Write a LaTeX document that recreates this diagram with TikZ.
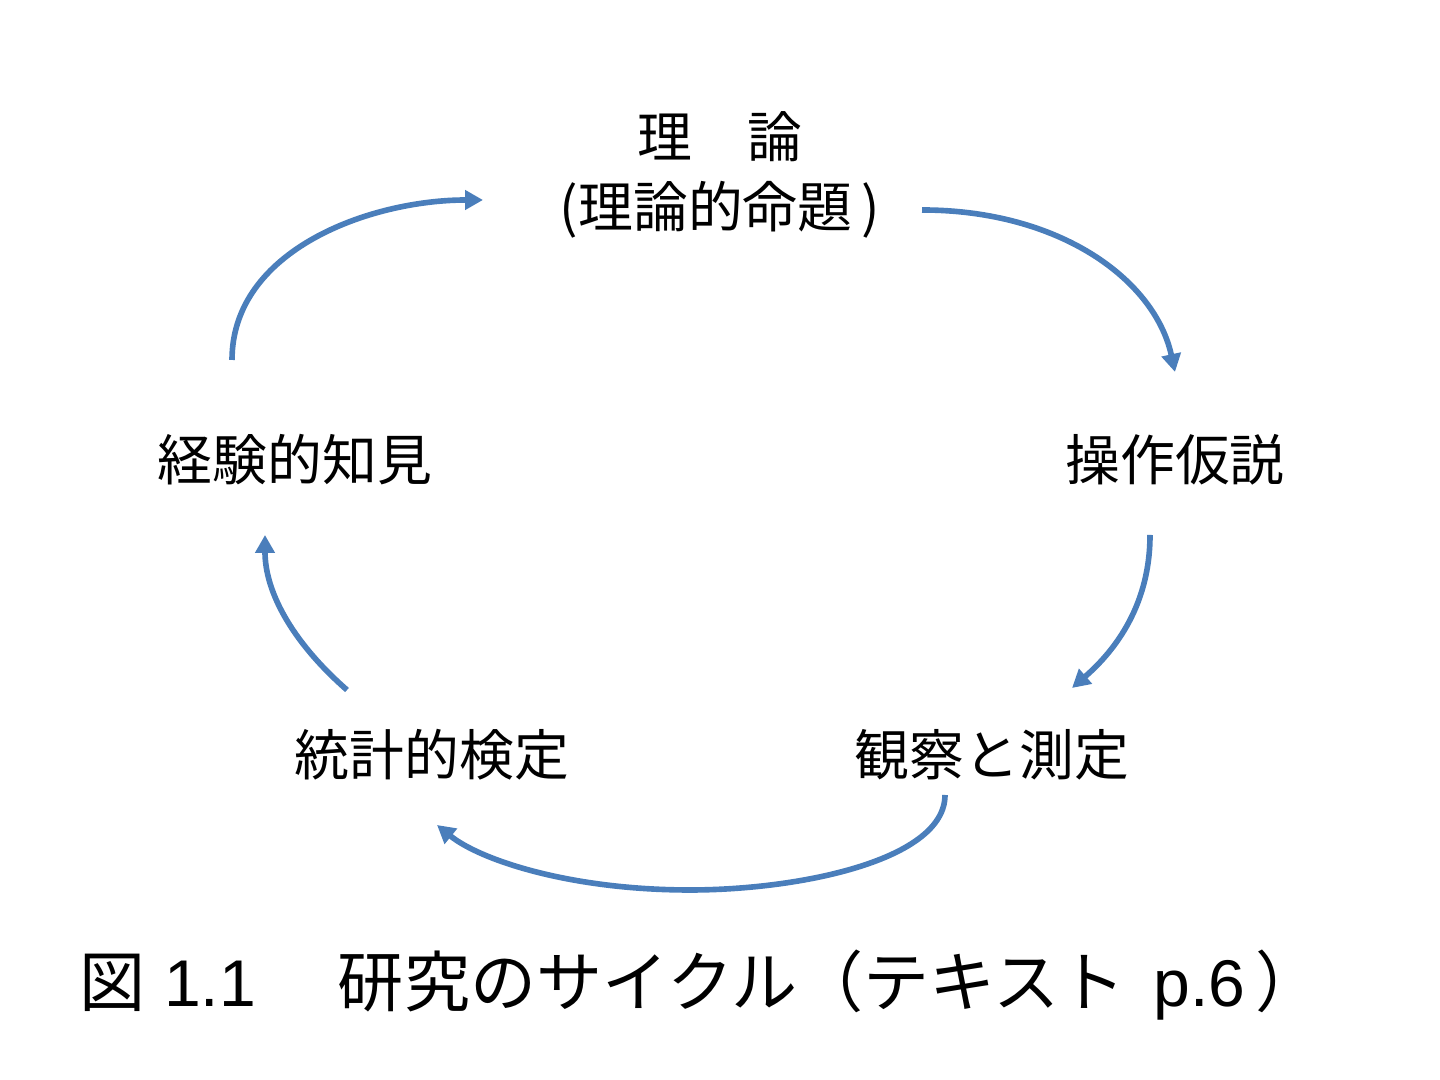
\documentclass[tikz,border=0pt]{standalone}
\usepackage{fontspec}
\setmainfont{Noto Sans CJK JP}
\newfontfamily\latinfont{Liberation Sans}
\usepackage{tikz}
\usetikzlibrary{arrows.meta}
\definecolor{cycblue}{RGB}{74,126,187}

\tikzset{
  stage/.style={font=\fontsize{15.6}{19.9}\selectfont, inner sep=0pt, align=center},
  cycarrow/.style={cycblue, line width=1.6pt, -{Triangle[length=1.8mm,width=1.9mm]}},
}

\begin{document}
\begin{tikzpicture}[scale=1]
    \useasboundingbox (0,0) rectangle (14.4,10.8);

    \node[stage] (theory) at (7.2,9.05) {理　論\\(理論的命題\,)};
    \node[stage] (hypo) at (11.75,6.2) {操作仮説};
    \node[stage] (obs) at (9.92,3.25) {観察と測定};
    \node[stage] (test) at (4.32,3.25) {統計的検定};
    \node[stage] (find) at (2.95,6.2) {経験的知見};
    \node[font=\fontsize{18.8}{22}\selectfont, inner sep=0pt, anchor=west] (cap) at (0.79,0.95)
        {図{\latinfont\ 1.1}\hspace{0.82cm}研究のサイクル（テキスト\hspace{0.28cm}{\latinfont p.6}\hspace{0.1cm}）};

    % free ends of the cycle arrows
    \coordinate (find-out) at (2.32,7.2);
    \coordinate (theory-in) at (4.83,8.8);
    \coordinate (theory-out) at (9.22,8.7);
    \coordinate (hypo-in) at (11.75,7.08);
    \coordinate (hypo-out) at (11.5,5.45);
    \coordinate (obs-in) at (10.72,3.92);
    \coordinate (obs-out) at (9.45,2.85);
    \coordinate (bottom) at (6.9,1.9);
    \coordinate (test-in) at (4.37,2.55);
    \coordinate (test-out) at (3.47,3.9);
    \coordinate (find-in) at (2.65,5.45);

    \draw[cycarrow] (find-out) .. controls (2.32,8.3) and (3.7,8.8) .. (theory-in);
    \draw[cycarrow] (theory-out) .. controls (10.6,8.7) and (11.55,8.0) .. (hypo-in);
    \draw[cycarrow] (hypo-out) .. controls (11.5,4.7) and (11.1,4.25) .. (obs-in);
    \draw[cycarrow] (obs-out) .. controls (9.45,2.2) and (8.0,1.9) .. (bottom)
        .. controls (5.7,1.9) and (4.8,2.2) .. (test-in);
    \draw[cycarrow] (test-out) .. controls (2.9,4.4) and (2.65,4.9) .. (find-in);
\end{tikzpicture}
\end{document}
